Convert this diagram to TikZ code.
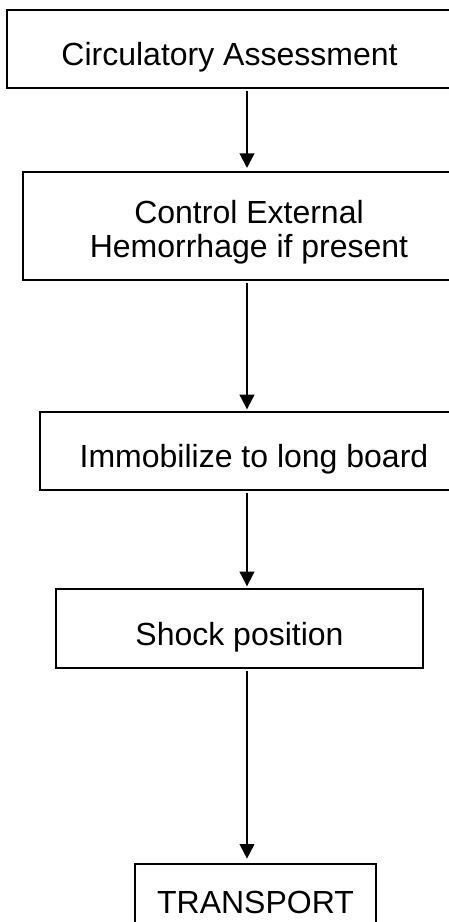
\documentclass[tikz,border=0pt]{standalone}
\usepackage{fontspec}
\setmainfont{Liberation Sans}
\usetikzlibrary{arrows.meta,positioning}

\begin{document}
\begin{tikzpicture}[
  x=0.75pt,y=-0.75pt,
  stage/.style={rectangle,draw,line width=1.7pt,align=center,inner sep=0pt,outer sep=0pt,text height=28.8pt,text depth=4pt,font=\fontsize{24}{25.5}\selectfont},
  arrow/.style={-{Triangle[length=11pt,width=11pt]},line width=1.5pt},
]
\useasboundingbox (0,0) rectangle (449,922);
\clip (0,0) rectangle (449,922);
\coordinate (spine) at (247,0);
\node[stage,minimum width=333.75pt,minimum height=58.5pt] (assess) at (229.5,49) {Circulatory Assessment};
\node[stage,minimum width=339pt,minimum height=81pt,text height=50pt,text depth=3.5pt] (bleed) at (249,226) {Control External\\Hemorrhage if present};
\node[stage,minimum width=321pt,minimum height=58.5pt] (immob) at (254,451) {Immobilize to long board};
\node[stage,minimum width=275.25pt,minimum height=59.25pt] (shock) at (239.5,628.5) {Shock position};
\node[stage,minimum width=180.75pt,minimum height=48.75pt] (transport) at (255.5,896.5) {TRANSPORT};

\draw[arrow,shorten <=2pt,shorten >=3pt] (assess.south -| spine) -- (bleed.north -| spine);
\draw[arrow,shorten <=2pt,shorten >=2pt] (bleed.south -| spine) -- (immob.north -| spine);
\draw[arrow,shorten <=2pt,shorten >=2pt] (immob.south -| spine) -- (shock.north -| spine);
\draw[arrow,shorten <=2pt,shorten >=4pt] (shock.south -| spine) -- (transport.north -| spine);
\end{tikzpicture}
\end{document}
